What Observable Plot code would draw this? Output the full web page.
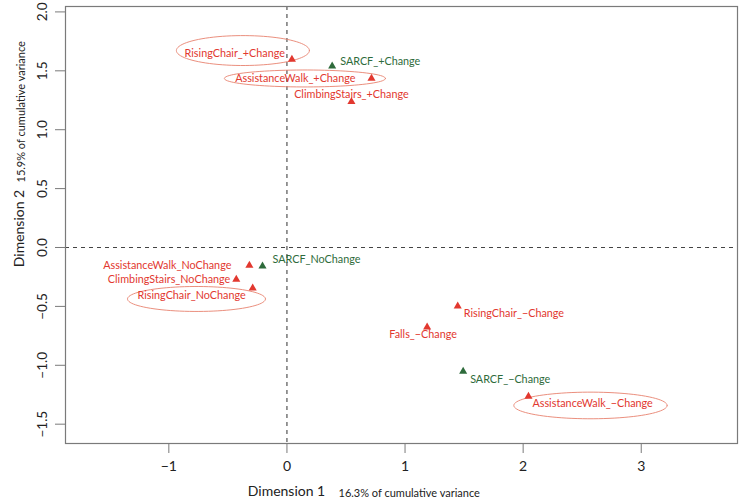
<!DOCTYPE html>
<html><head><meta charset="utf-8">
<script src="https://cdn.jsdelivr.net/npm/d3@7"></script>
<script src="https://cdn.jsdelivr.net/npm/@observablehq/plot@0.6"></script>
<style>body{margin:0;background:#fff;} #chart svg{display:block;}</style>
</head><body><div id="chart"></div>
<script>
// ---- data ----
const categories = [
  "RisingChair_+Change", "SARCF_+Change", "AssistanceWalk_+Change", "ClimbingStairs_+Change",
  "AssistanceWalk_NoChange", "SARCF_NoChange", "ClimbingStairs_NoChange", "RisingChair_NoChange",
  "RisingChair_\u2212Change", "Falls_\u2212Change", "SARCF_\u2212Change", "AssistanceWalk_\u2212Change"
];
const dim1 = [0.042, 0.383, 0.716, 0.546, -0.318, -0.207, -0.429, -0.290, 1.446, 1.187, 1.492, 2.045];
const dim2 = [1.596, 1.539, 1.435, 1.239, -0.153, -0.159, -0.272, -0.346, -0.499, -0.677, -1.053, -1.265];
const variableGroup = ["item","SARCF","item","item","item","SARCF","item","item","item","item","SARCF","item"];

const xTicks = [-1, 0, 1, 2, 3];
const xTickLabels = ["\u22121", "0", "1", "2", "3"];
const yTicks = [-1.5, -1, -0.5, 0, 0.5, 1, 1.5, 2];
const yTickLabels = ["\u22121.5", "\u22121.0", "\u22120.5", "0.0", "0.5", "1.0", "1.5", "2.0"];

const xTitle = "Dimension 1";
const xVariance = "16.3% of cumulative variance";
const yTitle = "Dimension 2";
const yVariance = "15.9% of cumulative variance";

// highlighted labels (ellipse centre / radii in data units)
const ellipseNames = ["RisingChair_+Change", "AssistanceWalk_+Change", "RisingChair_NoChange", "AssistanceWalk_\u2212Change"];
const ellipseCx = [-0.373, 0.152, -0.766, 2.570];
const ellipseCy = [1.672, 1.435, -0.437, -1.341];
const ellipseRx = [0.563, 0.682, 0.584, 0.649];
const ellipseRy = [0.127, 0.072, 0.106, 0.113];

// ---- styling / placement (not data) ----
const RED = "#e2382f", GREEN = "#2e6b3b";
const FONT = "Lato, 'Open Sans', sans-serif";
const labelPlacement = [
  ["end", -7, -6], ["start", 8, -5], ["end", -16, 0], ["middle", 0, -7],
  ["end", -18, 0], ["start", 10, -6.5], ["end", -6, 0], ["end", -7, 7],
  ["start", 6, 7.5], ["middle", -4, 7.5], ["start", 7, 8], ["start", 4, 7]
];

const points = categories.map((c, i) => ({name: c, x: dim1[i], y: dim2[i], g: variableGroup[i]}));
const colorOf = g => g === "SARCF" ? GREEN : RED;

const ellipsePts = [];
ellipseNames.forEach((n, k) => {
  for (let j = 0; j <= 90; j++) {
    const t = 2 * Math.PI * j / 90;
    ellipsePts.push({id: n, x: ellipseCx[k] + ellipseRx[k] * Math.cos(t), y: ellipseCy[k] + ellipseRy[k] * Math.sin(t)});
  }
});

const labelMarks = points.map((p, i) => Plot.text([p], {
  x: "x", y: "y", text: "name", fill: colorOf(p.g),
  textAnchor: labelPlacement[i][0], dx: labelPlacement[i][1], dy: labelPlacement[i][2],
  fontSize: 10.8, fontFamily: FONT
}));

const chart = Plot.plot({
  width: 742, height: 504,
  marginLeft: 65, marginRight: 5, marginTop: 6, marginBottom: 61,
  x: {domain: [-1.875, 3.815]},
  y: {domain: [-1.664, 2.046]},
  style: {fontFamily: FONT, background: "#fff", color: "#222"},
  marks: [
    Plot.ruleX([0], {stroke: "#444", strokeDasharray: "4,4", strokeWidth: 1.1}),
    Plot.ruleY([0], {stroke: "#444", strokeDasharray: "4,4", strokeWidth: 1.1}),
    Plot.line(ellipsePts, {x: "x", y: "y", z: "id", stroke: "#e8826f", strokeWidth: 0.9}),
    Plot.dot(points, {x: "x", y: "y", symbol: "triangle", r: 3, fill: d => colorOf(d.g), stroke: "none"}),
    ...labelMarks,
    Plot.frame({stroke: "#7a7a7a", strokeWidth: 1.2}),
    Plot.axisX(xTicks, {tickSize: 10, tickFormat: () => "", stroke: "#7a7a7a", label: null}),
    Plot.axisY(yTicks, {tickSize: 10, tickFormat: () => "", stroke: "#7a7a7a", label: null}),
    Plot.text(xTicks, {x: d => d, frameAnchor: "bottom", dy: 27, text: (d, i) => xTickLabels[i], fontSize: 14, fill: "#222"}),
    Plot.text(yTicks, {y: d => d, frameAnchor: "left", textAnchor: "middle", dx: -23, rotate: -90, text: (d, i) => yTickLabels[i], fontSize: 13.5, fill: "#222"}),
    Plot.text([xTitle], {frameAnchor: "bottom", textAnchor: "middle", dx: -115, dy: 52, text: d => d, fontSize: 14, fill: "#222"}),
    Plot.text([xVariance], {frameAnchor: "bottom", dx: -63, dy: 53, textAnchor: "start", text: d => d, fontSize: 11, fill: "#222"}),
    Plot.text([yTitle], {frameAnchor: "left", textAnchor: "middle", dx: -46, dy: 3.5, rotate: -90, text: d => d, fontSize: 14, fill: "#222"}),
    Plot.text([yVariance], {frameAnchor: "left", dx: -44, dy: -42.5, rotate: -90, textAnchor: "start", text: d => d, fontSize: 11, fill: "#222"})
  ]
});
document.getElementById("chart").appendChild(chart);
</script>
</body></html>
